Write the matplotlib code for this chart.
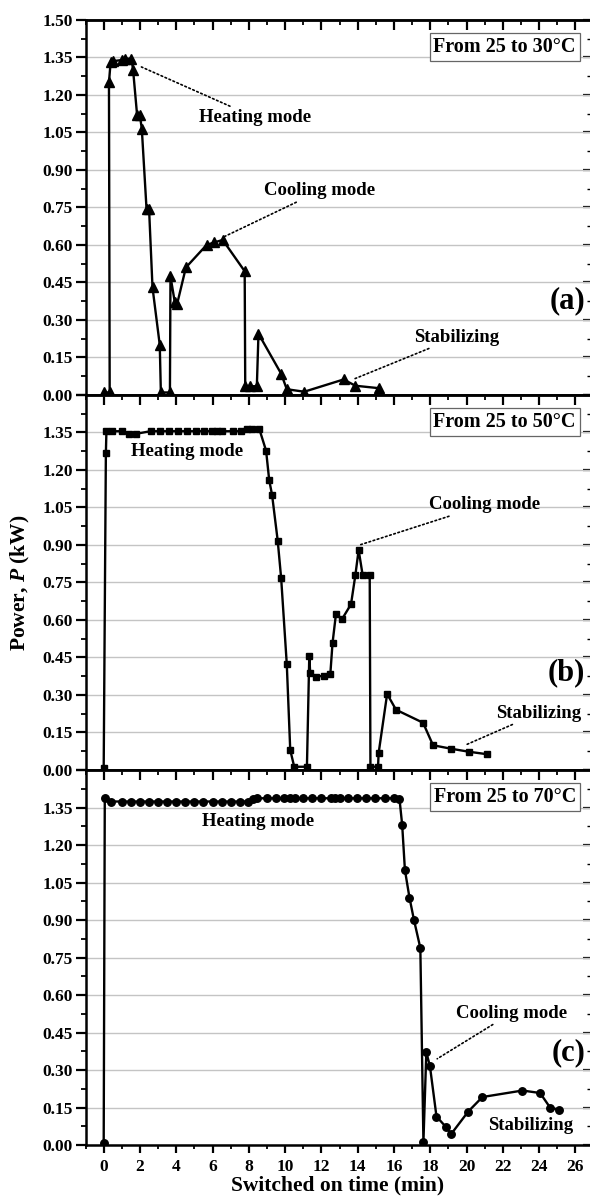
import numpy as np
import matplotlib
matplotlib.use("Agg")
import matplotlib.pyplot as plt
from matplotlib.ticker import MultipleLocator, FixedLocator, FixedFormatter

plt.rcParams['font.family'] = ['Liberation Serif', 'DejaVu Serif']
plt.rcParams['font.weight'] = 'bold'
plt.rcParams['mathtext.fontset'] = 'custom'
plt.rcParams['mathtext.rm'] = 'Liberation Serif:bold'
plt.rcParams['mathtext.it'] = 'Liberation Serif:italic:bold'

# ---- data: panel (a) 25 -> 30 C ----
a_time = [0.0, 0.33, 0.29, 0.38, 0.5, 1.03, 1.16, 1.53, 1.62, 1.84, 1.99, 2.1,
          2.36, 2.5, 2.69, 3.09, 3.15, 3.65, 3.68, 3.92, 4.05, 4.53, 5.67, 6.08,
          6.56, 7.77, 7.8, 8.07, 8.44, 8.53, 9.78, 10.09, 11.05, 13.22, 13.87, 15.19]
a_power = [0.01, 0.01, 1.25, 1.33, 1.335, 1.34, 1.345, 1.345, 1.30, 1.12, 1.12, 1.065,
           0.745, 0.745, 0.43, 0.20, 0.01, 0.01, 0.475, 0.37, 0.365, 0.51, 0.60, 0.61,
           0.62, 0.495, 0.035, 0.035, 0.035, 0.245, 0.085, 0.023, 0.013, 0.062, 0.037, 0.027]

# ---- data: panel (b) 25 -> 50 C ----
b_time = [0.0, 0.12, 0.15, 0.45, 1.03, 1.4, 1.8, 2.58, 3.09, 3.61, 4.1, 4.6, 5.08,
          5.52, 5.95, 6.25, 6.5, 7.11, 7.55, 7.88, 8.16, 8.58, 8.95, 9.12, 9.28,
          9.59, 9.78, 10.09, 10.28, 10.5, 11.2, 11.33, 11.38, 11.71, 12.12, 12.49,
          12.61, 12.8, 13.13, 13.63, 13.87, 14.05, 14.27, 14.66, 14.7, 15.12, 15.15,
          15.62, 16.11, 17.6, 18.15, 19.15, 20.13, 21.14]
b_power = [0.01, 1.267, 1.355, 1.355, 1.355, 1.345, 1.345, 1.355, 1.355, 1.355, 1.355,
           1.355, 1.355, 1.355, 1.355, 1.355, 1.355, 1.355, 1.355, 1.363, 1.363, 1.363,
           1.277, 1.16, 1.10, 0.917, 0.767, 0.423, 0.08, 0.013, 0.013, 0.457, 0.387,
           0.373, 0.377, 0.384, 0.507, 0.624, 0.603, 0.663, 0.78, 0.88, 0.78, 0.78,
           0.013, 0.013, 0.067, 0.304, 0.241, 0.189, 0.099, 0.085, 0.073, 0.063]

# ---- data: panel (c) 25 -> 70 C ----
c_time = [0.0, 0.06, 0.42, 1.0, 1.5, 2.0, 2.5, 3.0, 3.5, 4.0, 4.5, 5.0, 5.5, 6.0,
          6.5, 7.0, 7.5, 7.97, 8.25, 8.47, 9.0, 9.5, 9.94, 10.28, 10.55, 11.0, 11.5,
          12.0, 12.5, 12.73, 13.0, 13.45, 13.95, 14.47, 14.97, 15.5, 16.0, 16.3,
          16.45, 16.6, 16.85, 17.1, 17.45, 17.62, 17.78, 17.98, 18.34, 18.84, 19.15,
          20.09, 20.87, 23.08, 24.05, 24.6, 25.1]
c_power = [0.01, 1.387, 1.374, 1.374, 1.374, 1.374, 1.374, 1.374, 1.374, 1.374, 1.374,
           1.374, 1.374, 1.374, 1.374, 1.374, 1.374, 1.374, 1.385, 1.387, 1.387, 1.387,
           1.387, 1.387, 1.387, 1.387, 1.387, 1.387, 1.387, 1.387, 1.387, 1.387, 1.387,
           1.387, 1.387, 1.387, 1.387, 1.385, 1.28, 1.10, 0.99, 0.90, 0.788, 0.012,
           0.371, 0.315, 0.114, 0.074, 0.044, 0.134, 0.192, 0.218, 0.208, 0.15, 0.141]

ranges = ["From 25 to 30\u00b0C", "From 25 to 50\u00b0C", "From 25 to 70\u00b0C"]
letters = ["(a)", "(b)", "(c)"]
x_ticks = list(range(0, 27, 2))
y_ticks = [0.00, 0.15, 0.30, 0.45, 0.60, 0.75, 0.90, 1.05, 1.20, 1.35, 1.50]

fig = plt.figure(figsize=(5.9, 12.02), dpi=100)
left, width = 0.145, 0.855
top, bottom = 0.9834, 0.0474
h = (top - bottom) / 3

series = [(a_time, a_power, '^', 7.0), (b_time, b_power, 's', 4.6), (c_time, c_power, 'o', 5.4)]
axes = []
for i in range(3):
    ax = fig.add_axes([left, top - (i + 1) * h, width, h])
    axes.append(ax)
    t, p, mk, ms = series[i]
    ax.plot(t, p, color='black', lw=1.7, marker=mk, ms=ms, mfc='black', mec='black', zorder=3)
    ax.set_xlim(-1.0, 26.8)
    ax.set_ylim(0, 1.5)
    ax.yaxis.set_major_locator(FixedLocator(y_ticks))
    labels = ["%.2f" % v for v in y_ticks]
    if i > 0:
        labels[-1] = ""
    ax.yaxis.set_major_formatter(FixedFormatter(labels))
    ax.yaxis.set_minor_locator(MultipleLocator(0.075))
    ax.xaxis.set_major_locator(FixedLocator(x_ticks))
    ax.xaxis.set_minor_locator(MultipleLocator(1))
    ax.yaxis.grid(True, which='major', color='#c4c4c4', lw=1.0)
    ax.set_axisbelow(True)
    ax.tick_params(axis='y', which='major', direction='out', length=7, width=1.6,
                   labelsize=12.5, pad=2)
    ax.tick_params(axis='y', which='minor', direction='out', length=3.5, width=1.3)
    if i == 2:
        ax.tick_params(axis='x', which='major', direction='out', length=6, width=1.6,
                       labelsize=12.5, pad=4)
        ax.tick_params(axis='x', which='minor', direction='out', length=3, width=1.3)
    else:
        ax.tick_params(axis='x', which='both', bottom=False, labelbottom=False)
    for s in ax.spines.values():
        s.set_linewidth(1.8)
    ax.spines['right'].set_visible(False)
    # top ticks (inward)
    sx = ax.secondary_xaxis('top')
    sx.xaxis.set_major_locator(FixedLocator(x_ticks))
    sx.xaxis.set_minor_locator(MultipleLocator(1))
    sx.tick_params(axis='x', which='major', direction='in', length=7, width=1.6, labeltop=False)
    sx.tick_params(axis='x', which='minor', direction='in', length=3.5, width=1.3)
    sx.spines['top'].set_linewidth(1.8)
    # right ticks (inward)
    sy = ax.secondary_yaxis('right')
    sy.yaxis.set_major_locator(FixedLocator(y_ticks))
    sy.yaxis.set_minor_locator(MultipleLocator(0.075))
    sy.tick_params(axis='y', which='major', direction='in', length=5, width=1.6, labelright=False)
    sy.tick_params(axis='y', which='minor', direction='in', length=2.5, width=1.0)
    sy.spines['right'].set_visible(False)

    ax.text(22.1, 1.392, ranges[i], ha='center', va='center', fontsize=14.5,
            fontweight='bold', zorder=5,
            bbox=dict(boxstyle='square,pad=0.18', fc='white', ec='#666666', lw=0.9))

# panel letters
axes[0].text(26.55, 0.378, letters[0], ha='right', va='center', fontsize=22, fontweight='bold')
axes[1].text(26.55, 0.39, letters[1], ha='right', va='center', fontsize=22, fontweight='bold')
axes[2].text(26.55, 0.37, letters[2], ha='right', va='center', fontsize=22, fontweight='bold')

dot = dict(arrowstyle='-', linestyle=(0, (1.0, 1.6)), color='black', lw=1.2,
           shrinkA=0, shrinkB=0)
fs = 13.5
# (a)
axes[0].annotate("Heating mode", xy=(2.08, 1.312), xytext=(5.27, 1.11), fontsize=fs,
                 fontweight='bold', ha='left', va='center', arrowprops=dot)
axes[0].annotate("Cooling mode", xy=(6.52, 0.629), xytext=(8.85, 0.816), fontsize=fs,
                 fontweight='bold', ha='left', va='center', arrowprops=dot)
axes[0].annotate("Stabilizing", xy=(13.8, 0.064), xytext=(17.1, 0.231), fontsize=fs,
                 fontweight='bold', ha='left', va='center', arrowprops=dot)
# (b)
axes[1].text(1.53, 1.273, "Heating mode", fontsize=fs, fontweight='bold', ha='left', va='center')
axes[1].annotate("Cooling mode", xy=(14.1, 0.90), xytext=(17.9, 1.06), fontsize=fs,
                 fontweight='bold', ha='left', va='center', arrowprops=dot)
axes[1].annotate("Stabilizing", xy=(19.94, 0.10), xytext=(21.6, 0.227), fontsize=fs,
                 fontweight='bold', ha='left', va='center', arrowprops=dot)
# (c)
axes[2].text(8.53, 1.293, "Heating mode", fontsize=fs, fontweight='bold', ha='center', va='center')
axes[2].annotate("Cooling mode", xy=(18.38, 0.345), xytext=(19.39, 0.527), fontsize=fs,
                 fontweight='bold', ha='left', va='center', arrowprops=dot)
axes[2].text(21.2, 0.08, "Stabilizing", fontsize=fs, fontweight='bold', ha='left', va='center')

fig.text(0.035, (top + bottom) / 2, r"Power, $\mathit{P}$ (kW)", rotation=90, ha='center',
         va='center', fontsize=15.5, fontweight='bold')
fig.text(left + width / 2, 0.014, "Switched on time (min)", ha='center', va='center',
         fontsize=15.5, fontweight='bold')

fig.savefig("out.png", dpi=100)
